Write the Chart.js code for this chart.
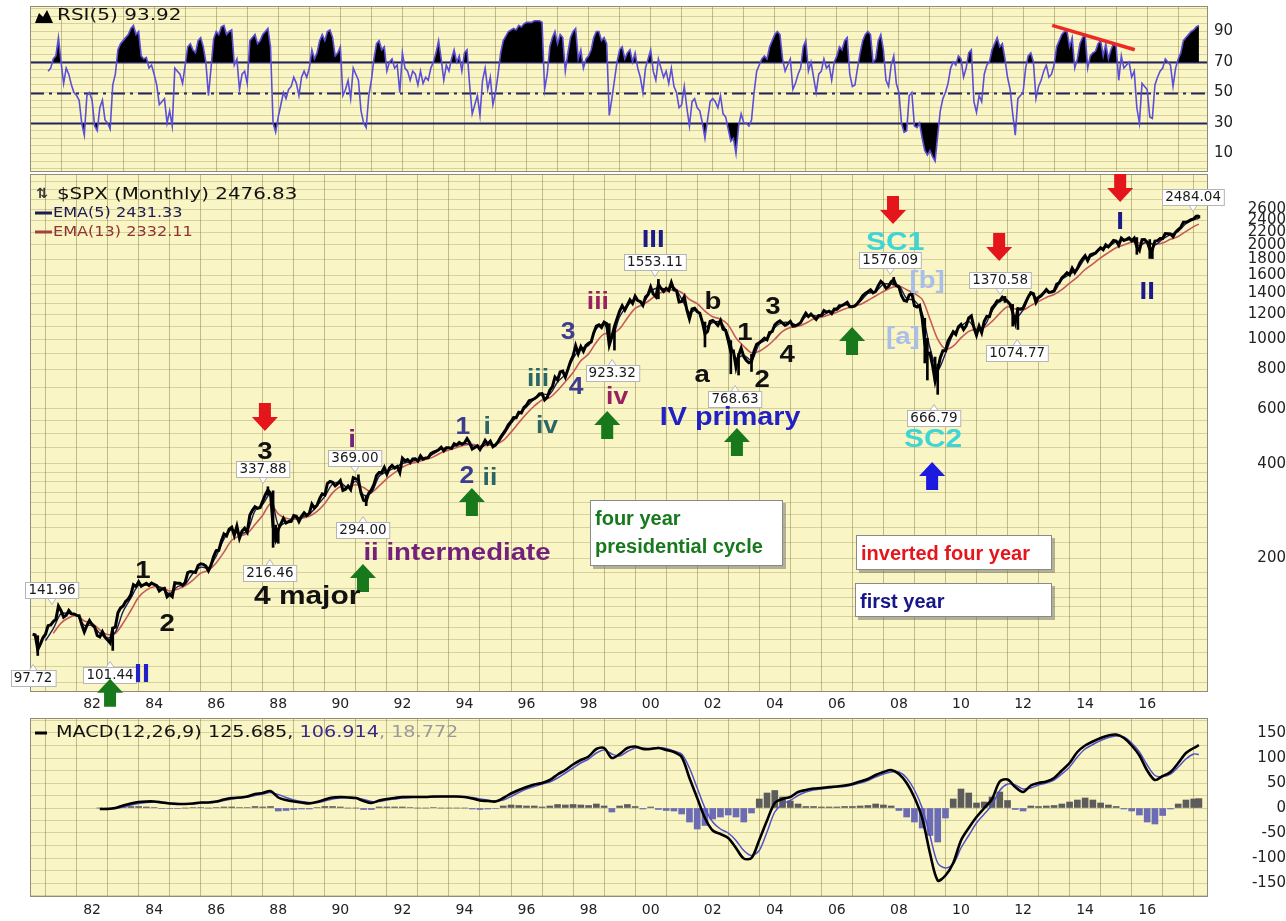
<!DOCTYPE html>
<html><head><meta charset="utf-8">
<script src="https://cdn.jsdelivr.net/npm/chart.js@4.4.1/dist/chart.umd.min.js"></script>
<style>
html,body{margin:0;padding:0;background:#fff;width:1286px;height:921px;overflow:hidden}
.p{position:absolute;left:0;width:1286px}
</style></head><body>
<div class="p" style="top:0;height:176px"><canvas id="c1"></canvas></div>
<div class="p" style="top:174px;height:540px"><canvas id="c2"></canvas></div>
<div class="p" style="top:714px;height:207px"><canvas id="c3"></canvas></div>
<script>
// ---------------- DATA ----------------
// S&P 500 monthly closes, Jan 1980 .. Aug 2017
const closes = [
114.16,113.66,102.09,106.29,111.24,114.24,121.67,122.38,125.46,127.47,140.52,135.76,
129.55,131.27,136.00,132.81,132.59,131.21,130.92,122.79,116.18,121.89,126.35,122.55,
120.40,113.11,111.96,116.44,111.88,109.61,107.09,119.51,120.42,133.71,138.54,140.64,
145.30,148.06,152.96,164.42,162.39,168.11,162.56,164.40,166.07,163.55,166.40,164.93,
163.41,157.06,159.18,160.05,150.55,153.18,150.66,166.68,166.10,166.09,163.58,167.24,
179.63,181.18,180.66,179.83,189.55,191.85,190.92,188.63,182.08,189.82,202.17,211.28,
211.78,226.92,238.90,235.52,247.35,250.84,236.12,252.93,231.32,243.98,249.22,242.17,
274.08,284.20,291.70,288.36,290.10,304.00,318.66,329.80,321.83,251.79,230.30,247.08,
257.07,267.82,258.89,261.33,262.16,273.50,272.02,261.52,271.91,278.97,273.70,277.72,
297.47,288.86,294.87,309.64,320.52,317.98,346.08,351.45,349.15,340.36,345.99,353.40,
329.08,331.89,339.94,330.80,361.23,358.02,356.15,322.56,306.05,304.00,322.22,330.22,
343.93,367.07,375.22,375.35,389.83,371.16,387.81,395.43,387.86,392.46,375.22,417.09,
408.79,412.70,403.69,414.95,415.35,408.14,424.21,414.03,417.80,418.68,431.35,435.71,
438.78,443.38,451.67,440.19,450.19,450.53,448.13,463.56,458.93,467.83,461.79,466.45,
481.61,467.14,445.77,450.91,456.50,444.27,458.26,475.49,462.69,472.35,453.69,459.27,
470.42,487.39,500.71,514.71,533.40,544.75,562.06,561.88,584.41,581.50,605.37,615.93,
636.02,640.43,645.50,654.17,669.12,670.63,639.95,651.99,687.31,705.27,757.02,740.74,
786.16,790.82,757.12,801.34,848.28,885.14,954.29,899.47,947.28,914.62,955.40,970.43,
980.28,1049.34,1101.75,1111.75,1090.82,1133.84,1120.67,957.28,1017.01,1098.67,1163.63,1229.23,
1279.64,1238.33,1286.37,1335.18,1301.84,1372.71,1328.72,1320.41,1282.71,1362.93,1388.91,1469.25,
1394.46,1366.42,1498.58,1452.43,1420.60,1454.60,1430.83,1517.68,1436.51,1429.40,1314.95,1320.28,
1366.01,1239.94,1160.33,1249.46,1255.82,1224.42,1211.23,1133.58,1040.94,1059.78,1139.45,1148.08,
1130.20,1106.73,1147.39,1076.92,1067.14,989.82,911.62,916.07,815.28,885.76,936.31,879.82,
855.70,841.15,848.18,916.92,963.59,974.50,990.31,1008.01,995.97,1050.71,1058.20,1111.92,
1131.13,1144.94,1126.21,1107.30,1120.68,1140.84,1101.72,1104.24,1114.58,1130.20,1173.82,1211.92,
1181.27,1203.60,1180.59,1156.85,1191.50,1191.33,1234.18,1220.33,1228.81,1207.01,1249.48,1248.29,
1280.08,1280.66,1294.87,1310.61,1270.09,1270.20,1276.66,1303.82,1335.85,1377.94,1400.63,1418.30,
1438.24,1406.82,1420.86,1482.37,1530.62,1503.35,1455.27,1473.99,1526.75,1549.38,1481.14,1468.36,
1378.55,1330.63,1322.70,1385.59,1400.38,1280.00,1267.38,1282.83,1166.36,968.75,896.24,903.25,
825.88,735.09,797.87,872.81,919.14,919.32,987.48,1020.62,1057.08,1036.19,1095.63,1115.10,
1073.87,1104.49,1169.43,1186.69,1089.41,1030.71,1101.60,1049.33,1141.20,1183.26,1180.55,1257.64,
1286.12,1327.22,1325.83,1363.61,1345.20,1320.64,1292.28,1218.89,1131.42,1253.30,1246.96,1257.60,
1312.41,1365.68,1408.47,1397.91,1310.33,1362.16,1379.32,1406.58,1440.67,1412.16,1416.18,1426.19,
1498.11,1514.68,1569.19,1597.57,1630.74,1606.28,1685.73,1632.97,1681.55,1756.54,1805.81,1848.36,
1782.59,1859.45,1872.34,1883.95,1923.57,1960.23,1930.67,2003.37,1972.29,2018.05,2067.56,2058.90,
1994.99,2104.50,2067.89,2085.51,2107.39,2063.11,2103.84,1972.18,1920.03,2079.36,2080.41,2043.94,
1940.24,1932.23,2059.74,2065.30,2096.95,2098.86,2173.60,2170.95,2168.27,2126.15,2198.81,2238.83,
2278.87,2363.64,2362.72,2384.20,2411.80,2423.41,2470.30,2476.83
];
// Monthly high-low range of the months whose extremes stand out (month index from Jan 1980)
const wickMonths = [2,31,91,93,94,95,126,129,223,225,242,260,270,273,278,333,345,346,349,350,376,379,381,427,432,433,451];
const wickLows   = [97.72,101.44,318,216.46,225,223,355,294,957,923.32,1346,944.75,775.68,768.63,789,1489,839.8,741,735,666.79,1311,1101.5,1074.77,1867,1812,1810,2437];
const wickHighs  = [113,120,337.88,328,255,248,369,315,1121,1100,1553.11,1135,990,900,895,1576.09,1167,1007,877,832,1370.58,1292,1256,2112,2081,1962,2484.04];
// EMA(5), quarter ends from Jun 1980 (last = Aug 2017)
const ema5 = [
109,119,133,
133,132,122,122, 115,111,116,135, 149,164,164,165, 160,154,162,165, 179,187,186,203,
230,247,240,244, 283,297,321,255, 260,269,270,276, 294,315,345,348, 336,352,318,323,
365,378,388,401, 407,411,417,430, 447,449,458,465, 458,450,465,460, 493,538,576,608,
643,667,668,730, 772,867,934,955, 1080,1120,1010,1180, 1280,1340,1305,1420,
1460,1445,1465,1345, 1220,1240,1095,1130, 1135,1030,870,890, 855,965,1000,1090,
1130,1130,1110,1180, 1190,1185,1225,1240, 1290,1278,1320,1400, 1420,1500,1500,1485,
1350,1330,1210,940, 800,900,1040,1100, 1140,1070,1100,1230, 1320,1330,1170,1240,
1390,1350,1420,1420, 1550,1610,1670,1810, 1850,1940,1975,2045, 2070,2080,1990,2050,
2000,2090,2160,2210, 2340,2410,2431.33
];
// EMA(13), quarter ends from Sep 1980 (last = Aug 2017)
const ema13 = [
115,124,
129,131,126,124, 118,114,115,124, 136,150,158,162, 161,157,159,163, 170,179,183,193,
209,228,235,240, 256,274,298,277, 268,266,268,272, 282,299,323,338, 337,343,336,325,
340,359,375,390, 400,406,413,421, 434,443,451,459, 462,457,458,461, 475,505,541,578,
612,640,651,686, 731,783,853,898, 978,1040,1040,1080, 1170,1255,1289,1340,
1400,1421,1440,1410, 1340,1300,1230,1180, 1160,1110,1010,950, 905,915,950,1000,
1060,1090,1100,1125, 1160,1175,1198,1220, 1248,1272,1290,1330, 1375,1420,1460,1480,
1440,1400,1340,1160, 1000,930,950,1010, 1060,1080,1090,1140, 1210,1270,1250,1240,
1280,1320,1360,1390, 1440,1510,1580,1670, 1740,1820,1890,1960, 2000,2040,2030,2030,
2010,2030,2085,2130, 2210,2290,2332.11
];
// RSI(5), monthly from Jul 1980 .. Aug 2017
const rsi5 = [
64,66,72,74,86,70,
56,66,62,55,50,48,45,30,22,48,50,45,
28,25,40,45,32,30,26,55,62,78,82,84,
86,88,92,94,88,90,74,72,73,66,68,62,
55,42,44,46,30,38,28,66,64,62,56,68,
80,82,78,76,84,86,80,70,48,66,85,90,
88,93,94,88,90,91,68,72,52,62,64,56,
84,86,88,82,84,88,90,92,80,30,24,34,
42,50,46,52,54,60,56,48,60,64,60,66,
78,72,76,84,88,84,90,91,86,74,76,80,
48,52,58,46,66,62,58,38,30,27,48,58,
72,82,84,78,80,64,70,72,66,68,50,76,
66,64,58,64,62,55,64,56,60,58,66,70,
76,84,72,58,68,64,72,78,70,74,64,76,
78,55,36,42,48,35,58,66,52,60,42,50,
62,76,84,87,90,91,92,91,94,93,95,96,
96,96,97,97,97,96,52,62,80,86,90,82,
88,86,64,76,86,90,92,72,78,66,72,74,
78,86,90,90,84,86,82,35,46,58,70,78,
80,72,76,78,70,76,66,60,50,66,72,78,
64,58,72,66,60,64,56,66,54,50,40,42,
54,40,28,44,46,40,38,30,20,32,44,46,
44,40,48,36,34,26,18,20,10,28,36,30,
30,28,32,50,64,68,72,74,72,80,84,88,
90,88,72,64,68,72,52,56,62,66,80,84,
64,70,60,50,62,64,72,66,68,58,70,74,
80,78,84,86,62,54,55,66,76,84,88,90,
88,70,72,84,88,78,58,54,68,74,56,50,
30,24,25,48,50,28,27,30,20,12,9,12,
8,5,22,38,46,50,56,66,70,68,74,72,
60,66,76,78,44,37,48,44,62,68,70,78,
82,86,80,82,72,60,52,36,22,46,48,50,
66,74,76,70,46,54,58,64,68,60,62,68,
80,84,88,90,90,80,86,66,72,82,86,88,
66,74,76,77,82,84,74,82,72,78,82,80,
58,74,66,68,70,60,64,40,30,56,54,52,
34,33,55,60,64,66,72,70,68,54,66,72,
76,84,86,88,90,91,93,93.92
];
// RSI trend line (year, value)
const rsiTrendYears = [2012.94, 2015.6];
const rsiTrendValues = [94, 78];
// MACD(12,26,9), quarter ends from Mar 1982 (last = Aug 2017)
const macdLine = [
-2,-2,0,5, 9,12,13,13, 11,9,8,8, 9,11,11,13, 17,20,21,23, 28,30,34,21, 16,13,11,9,
12,17,21,22, 21,20,14,10, 15,18,20,22, 22,22,22,23, 23,23,23,22, 19,15,14,13,
20,29,36,42, 47,50,56,67, 76,87,96,103, 118,120,100,108, 120,123,118,118,
120,116,112,102, 60,20,-20,-45, -52,-60,-80,-101, -100,-64,-25,10, 18,22,32,36,
39,40,42,43, 45,48,53,58, 66,72,76,68, 50,21,-20,-90, -145,-135,-110,-65,
-40,-18,0,18, 53,57,42,32, 45,50,53,60, 75,90,112,125, 133,140,145,147,
140,125,105,75, 56,64,72,90, 110,120,125.685
];
const macdSignal = [
-2,-2,-1,2, 6,9,11,12, 12,10,9,8, 8,10,11,12, 15,18,20,22, 25,28,31,27, 21,16,13,11,
11,14,18,20, 21,20,17,13, 13,16,18,20, 21,22,22,22, 23,23,23,22, 21,18,16,14,
16,23,31,38, 43,48,52,60, 70,80,90,98, 110,116,108,104, 113,120,120,119,
121,119,114,108, 80,40,0,-28, -42,-50,-65,-85, -95,-85,-48,-8, 8,15,25,32,
36,38,40,42, 43,46,50,55, 62,68,72,72, 60,36,0,-55, -110,-120,-112,-80,
-55,-30,-12,6, 35,48,46,38, 40,46,50,56, 68,82,102,118, 127,135,141,144,
142,130,112,86, 65,63,68,82, 98,108,106.914
];
const macdHist = [
0,0,1,3, 3,3,2,1, -1,-1,-1,0, 1,1,0,1, 2,2,1,1, 3,2,3,-6, -5,-3,-2,-2,
1,3,3,2, 0,0,-3,-3, 2,2,2,2, 1,0,0,1, 0,0,0,0, -2,-3,-2,-1,
4,6,5,4, 4,2,4,7, 6,7,6,5, 8,4,-8,4, 7,3,-2,2,
-3,-5,-6,-12, -28,-42,-35,-22, -18,-14,-18,-28, -10,18,30,35, 22,14,8,3,
3,2,2,2, 3,3,4,5, 8,6,4,-5, -18,-28,-40,-55, -68,-20,18,38,
30,10,12,22, 32,15,-3,-6, 4,3,4,5, 8,12,16,20, 16,10,6,3,
-2,-6,-14,-28, -32,-15,-2,8, 16,18,18.772
];
// Axis tick labels
const xLabelYears = [1982,1984,1986,1988,1990,1992,1994,1996,1998,2000,2002,2004,2006,2008,2010,2012,2014,2016];
const xLabelText  = ['82','84','86','88','90','92','94','96','98','00','02','04','06','08','10','12','14','16'];
const priceGrid = [80,90,100,110,120,130,140,150,160,180,200,225,250,275,300,325,350,375,400,450,500,550,600,700,800,900,1000,1100,1200,1300,1400,1500,1600,1800,2000,2200,2400,2600,2800,3000,3200];
const priceLabels = [200,400,600,800,1000,1200,1400,1600,1800,2000,2200,2400,2600];
const rsiLabels = [10,30,50,70,90];
const rsiLevels = [70,50,30];
const macdLabels = [-150,-100,-50,0,50,100,150];

// Annotations on the price panel (year, price)
const waveLabels = [
 [1983.64,182,'1','blk'],[1984.42,122.4,'2','blk'],[1987.57,436.5,'3','blk'],[1988.93,150.3,'4 major','big'],
 [1983.61,84.6,'II','blue'],[1990.38,476.8,'i','pur'],[1993.76,207.7,'ii intermediate','pur'],
 [1993.95,520.8,'1','slate'],[1994.73,520.8,'i','teal'],[1994.08,363,'2','slate'],[1994.82,360,'ii','teal'],
 [1996.37,741,'iii','teal'],[1996.66,524.5,'iv','teal'],[1997.34,1047,'3','slate'],[1997.6,699,'4','slate'],
 [1998.3,1305,'iii','pur2'],[1998.92,649,'iv','pur2'],[2000.08,2075,'III','navy'],
 [2002.01,1315,'b','blk'],[2001.66,769,'a','blk'],[2003.04,1047,'1','blk'],[2003.59,741,'2','blk'],
 [2003.94,1268,'3','blk'],[2004.4,891,'4','blk'],[2002.56,560,'IV primary','blue'],
 [2007.88,2030,'SC1','cyan'],[2008.91,1535,'[b]','lb'],[2008.13,1017,'[a]','lb'],[2009.1,476.8,'SC2','cyan'],
 [2015.13,2369,'I','navy'],[2016.0,1416,'II','navy']
];
const priceCallouts = [
 [1980.71,158.2,'141.96','d'],[1980.1,82.9,'97.72','u'],[1982.58,84.6,'101.44','u'],
 [1987.51,385.3,'337.88','d'],[1987.73,179.3,'216.46','u'],[1990.47,417.8,'369.00','d'],
 [1990.73,245.9,'294.00','u'],[1998.76,780,'923.32','u'],[2000.14,1765,'1553.11','d'],
 [2002.72,644.6,'768.63','u'],[2007.72,1791,'1576.09','d'],[2009.13,560,'666.79','u'],
 [2011.26,1546,'1370.58','d'],[2011.81,904,'1074.77','u'],[2017.48,2846,'2484.04','d']
];
const arrows = [
 [1987.57,564.5,'d','red'],[2007.81,2587,'d','red'],[2011.23,1971,'d','red'],[2015.13,3041,'d','red'],
 [1982.58,74.3,'u','green'],[1990.73,172.7,'u','green'],[1994.24,302,'u','green'],[1998.6,532,'u','green'],
 [2002.78,469.8,'u','green'],[2006.49,987,'u','green'],[2009.07,365.8,'u','blue']
];
const noteBoxes = [
 [1998.05,306.7,['four year','presidential cycle'],'green'],
 [2006.62,237.2,['inverted four year'],'red'],
 [2006.59,166.7,['first year'],'navy']
];

// ---------------- STYLE ----------------
const X_MIN = 1980, X_MAX = 2017.96;
const PLOT_BG = '#faf5c4';
const GRID_X = 'rgba(115,105,55,0.42)';
const GRID_Y = 'rgba(115,105,55,0.26)';
const TICK_FONT = {family:'DejaVu Sans', size:15};
const COLORS = {red:'#e4161c', green:'#18791c', blue:'#1b1be0', navy:'#16168a'};
const labelStyles = {
 blk:['#111111','bold 24px "Liberation Sans"'], big:['#111111','bold 26px "Liberation Sans"'],
 pur:['#74217c','bold 24px "Liberation Sans"'], pur2:['#98215f','bold 23px "Liberation Sans"'],
 teal:['#2b6666','bold 23px "Liberation Sans"'], slate:['#3d3d90','bold 23px "Liberation Sans"'],
 navy:['#1a1a8c','bold 24px "Liberation Sans"'], blue:['#2121c4','bold 25px "Liberation Sans"'],
 cyan:['#3fd5d5','bold 26px "Liberation Sans"'], lb:['#a9bfe8','bold 24px "Liberation Sans"']
};
const boxSizes = {green:[193,66], red:[196,35], navy:[197,34]};

// ---------------- HELPERS ----------------
const LAST_X = 1980 + closes.length/12;
const monthX = i => 1980 + (i + 1) / 12;
const qX = (start, i, n) => (i === n - 1 ? LAST_X : start + i * 0.25);
const closeData = closes.map((v,i)=>({x:monthX(i), y:v}));
const wickData = wickMonths.map((m,i)=>({x:monthX(m), y:[wickLows[i], wickHighs[i]]}));
const ema5Data = ema5.map((v,i)=>({x:qX(1980.5,i,ema5.length), y:v}));
const ema13Data = ema13.map((v,i)=>({x:qX(1980.75,i,ema13.length), y:v}));
const rsiData = rsi5.map((v,i)=>({x:monthX(i+6), y:v}));
const trendData = rsiTrendYears.map((x,i)=>({x, y:rsiTrendValues[i]}));
const macdData = macdLine.map((v,i)=>({x:qX(1982.25,i,macdLine.length), y:v}));
const sigData = macdSignal.map((v,i)=>({x:qX(1982.25,i,macdSignal.length), y:v}));
const histData = macdHist.map((v,i)=>({x:qX(1982.25,i,macdHist.length), y:v}));
const yearTicks = []; for (let y = 1980; y <= 2017; y++) yearTicks.push(y);
const xLabel = v => { const k = xLabelYears.indexOf(v); return k >= 0 ? xLabelText[k] : ''; };
const noPad = s => { s.paddingTop = 0; s.paddingBottom = 0; s.paddingLeft = 0; s.paddingRight = 0; };

function txt(ctx, s, x, y, font, color, align, sx) {
  ctx.save(); ctx.translate(x, y); ctx.scale(sx || 1, 1);
  ctx.font = font; ctx.fillStyle = color; ctx.textAlign = align || 'center'; ctx.textBaseline = 'middle';
  ctx.fillText(s, 0, 0); ctx.restore();
}
function textW(ctx, s, font, sx) { ctx.save(); ctx.font = font; const w = ctx.measureText(s).width * (sx||1); ctx.restore(); return w; }

const bgPlugin = {
  id:'bg',
  beforeDraw(chart){ const {ctx, chartArea:a} = chart; ctx.save(); ctx.fillStyle = PLOT_BG; ctx.fillRect(a.left, a.top, a.width, a.height); ctx.restore(); },
  afterDatasetsDraw(chart){ const {ctx, chartArea:a} = chart; ctx.save(); ctx.strokeStyle = '#8f8c78'; ctx.lineWidth = 1; ctx.strokeRect(a.left+0.5, a.top+0.5, a.width-1, a.height-1); ctx.restore(); }
};

function xScale(h, showLabels, pad) {
  return {
    type:'linear', min:X_MIN, max:X_MAX, offset:false,
    afterBuildTicks: s => { s.ticks = yearTicks.map(v => ({value:v})); },
    afterFit: s => { s.height = h; noPad(s); },
    grid:{color:GRID_X, drawTicks:false}, border:{display:false},
    ticks:{display:showLabels, autoSkip:false, maxRotation:0, minRotation:0, padding:pad, color:'#222',
      font:{family:'DejaVu Sans', size:14}, callback: v => xLabel(v)}
  };
}

// ---------------- RSI PANEL ----------------
const rsiPlugin = {
  id:'rsiDeco',
  beforeDatasetsDraw(chart){
    const {ctx, chartArea:a, scales:{y}} = chart;
    ctx.save(); ctx.strokeStyle = '#24245e'; ctx.lineWidth = 2;
    rsiLevels.forEach(v => {
      const py = Math.round(y.getPixelForValue(v)) + 0.5;
      ctx.setLineDash(v === 50 ? [14,5,3,5] : []);
      ctx.beginPath(); ctx.moveTo(a.left, py); ctx.lineTo(a.right, py); ctx.stroke();
    });
    ctx.restore();
  },
  afterDraw(chart){
    const {ctx} = chart;
    ctx.save(); ctx.fillStyle = '#000';
    ctx.beginPath(); ctx.moveTo(35,23); ctx.lineTo(39,13); ctx.lineTo(43,17); ctx.lineTo(47,10); ctx.lineTo(53,23); ctx.closePath(); ctx.fill();
    ctx.restore();
    txt(ctx, 'RSI(5) 93.92', 57, 16, '16px "DejaVu Sans"', '#111', 'left', 1.25);
  }
};
new Chart(document.getElementById('c1'), {
  type:'line',
  data:{datasets:[
    {data:trendData, borderColor:'#ec2a22', borderWidth:3.5, pointRadius:0, fill:false},
    {data:rsiData, borderColor:'#5b4ed8', borderWidth:1.6, pointRadius:0, tension:0,
      fill:{target:{value:70}, above:'#000000', below:'rgba(0,0,0,0)'}},
    {data:rsiData, borderColor:'rgba(0,0,0,0)', borderWidth:0, pointRadius:0,
      fill:{target:{value:30}, above:'rgba(0,0,0,0)', below:'#000000'}}
  ]},
  options:{
    responsive:true, maintainAspectRatio:false, animation:false,
    layout:{padding:{left:30, top:6, right:0, bottom:0}},
    plugins:{legend:{display:false}, tooltip:{enabled:false}},
    scales:{
      x: xScale(4, false, 0),
      y:{type:'linear', position:'right', min:-2.1, max:106.7,
        afterBuildTicks: s => { const t=[]; for (let v=0; v<=105; v+=5) t.push({value:v}); s.ticks = t; },
        afterFit: s => { s.width = 78; noPad(s); },
        grid:{color:GRID_Y, drawTicks:false}, border:{display:false},
        ticks:{autoSkip:false, padding:6, crossAlign:'near', color:'#222', font:TICK_FONT,
          callback: v => rsiLabels.includes(v) ? String(v) : ''}}
    }
  },
  plugins:[bgPlugin, rsiPlugin]
});

// ---------------- PRICE PANEL ----------------
function drawArrow(ctx, px, py, dir, color) {
  const hw = 13, sw = 6, h = 14, s = dir === 'd' ? 1 : -1;
  ctx.save(); ctx.fillStyle = color;
  ctx.beginPath();
  ctx.moveTo(px - sw, py - s*h); ctx.lineTo(px + sw, py - s*h); ctx.lineTo(px + sw, py);
  ctx.lineTo(px + hw, py); ctx.lineTo(px, py + s*h); ctx.lineTo(px - hw, py); ctx.lineTo(px - sw, py);
  ctx.closePath(); ctx.fill(); ctx.restore();
}
function drawCallout(ctx, px, py, text, dir) {
  const font = '13.5px "DejaVu Sans"';
  const w = textW(ctx, text, font) + 6, h = 16, x0 = Math.round(px - w/2) + 0.5, y0 = Math.round(py - h/2) + 0.5;
  ctx.save();
  ctx.fillStyle = '#ffffff'; ctx.strokeStyle = '#b5b5b5'; ctx.lineWidth = 1;
  ctx.beginPath();
  if (dir === 'd') { ctx.moveTo(px-4, y0+h); ctx.lineTo(px, y0+h+6); ctx.lineTo(px+4, y0+h); }
  else { ctx.moveTo(px-4, y0); ctx.lineTo(px, y0-6); ctx.lineTo(px+4, y0); }
  ctx.closePath(); ctx.fill(); ctx.stroke();
  ctx.fillRect(x0, y0, w, h); ctx.strokeRect(x0, y0, w, h);
  ctx.restore();
  txt(ctx, text, px, py + 0.5, font, '#1a1a1a', 'center', 1);
}
function drawNote(ctx, px, py, lines, colorKey) {
  const [w, h] = boxSizes[colorKey];
  ctx.save();
  ctx.fillStyle = 'rgba(120,120,110,0.55)'; ctx.fillRect(px + 3, py + 3, w, h);
  ctx.fillStyle = '#ffffff'; ctx.fillRect(px, py, w, h);
  ctx.strokeStyle = '#8a8a8a'; ctx.lineWidth = 1; ctx.strokeRect(px + 0.5, py + 0.5, w - 1, h - 1);
  ctx.restore();
  const color = COLORS[colorKey];
  lines.forEach((s, i) => txt(ctx, s, px + 5, py + 19 + i * 28, 'bold 20px "Liberation Sans"', color, 'left', 1));
}
const mainPlugin = {
  id:'mainDeco',
  afterDraw(chart){
    const {ctx, scales:{x, y}} = chart;
    noteBoxes.forEach(b => drawNote(ctx, Math.round(x.getPixelForValue(b[0])), Math.round(y.getPixelForValue(b[1])), b[2], b[3]));
    priceCallouts.forEach(c => drawCallout(ctx, x.getPixelForValue(c[0]), y.getPixelForValue(c[1]), c[2], c[3]));
    arrows.forEach(a => drawArrow(ctx, x.getPixelForValue(a[0]), y.getPixelForValue(a[1]), a[2], COLORS[a[3]]));
    waveLabels.forEach(l => { const st = labelStyles[l[3]]; txt(ctx, l[2], x.getPixelForValue(l[0]), y.getPixelForValue(l[1]), st[1], st[0], 'center', 1.15); });
    // legend
    txt(ctx, '⇅', 42, 20, 'bold 14px "DejaVu Sans"', '#333', 'center', 1);
    txt(ctx, '$SPX (Monthly) 2476.83', 57, 21, '16px "DejaVu Sans"', '#111', 'left', 1.24);
    ctx.save(); ctx.lineWidth = 3;
    ctx.strokeStyle = '#1b1b55'; ctx.beginPath(); ctx.moveTo(35, 39); ctx.lineTo(52, 39); ctx.stroke();
    ctx.strokeStyle = '#a04040'; ctx.beginPath(); ctx.moveTo(35, 58); ctx.lineTo(52, 58); ctx.stroke();
    ctx.restore();
    txt(ctx, 'EMA(5) 2431.33', 53, 39, '14px "DejaVu Sans"', '#1b1b55', 'left', 1.15);
    txt(ctx, 'EMA(13) 2332.11', 53, 58, '14px "DejaVu Sans"', '#8e3434', 'left', 1.15);
  }
};
new Chart(document.getElementById('c2'), {
  type:'line',
  data:{datasets:[
    {data:closeData, borderColor:'#000000', borderWidth:3, pointRadius:0, tension:0},
    {type:'bar', data:wickData, backgroundColor:'#000000', borderWidth:0, barThickness:2},
    {data:ema5Data, borderColor:'#1b1b55', borderWidth:1.4, pointRadius:0, tension:0.3},
    {data:ema13Data, borderColor:'#c65a5a', borderWidth:1.6, pointRadius:0, tension:0.3}
  ]},
  options:{
    responsive:true, maintainAspectRatio:false, animation:false,
    layout:{padding:{left:30, top:0, right:0, bottom:0}},
    plugins:{legend:{display:false}, tooltip:{enabled:false}},
    scales:{
      x: xScale(22, true, 4),
      y:{type:'logarithmic', position:'right', min:74.7, max:3371,
        afterBuildTicks: s => { s.ticks = priceGrid.map(v => ({value:v})); },
        afterFit: s => { s.width = 78; noPad(s); },
        grid:{color:GRID_Y, drawTicks:false}, border:{display:false},
        ticks:{autoSkip:false, padding:11, crossAlign:'far', color:'#222', font:TICK_FONT,
          callback: v => priceLabels.includes(v) ? String(v) : ''}}
    }
  },
  plugins:[bgPlugin, mainPlugin]
});

// ---------------- MACD PANEL ----------------
const macdPlugin = {
  id:'macdDeco',
  afterDraw(chart){
    const {ctx} = chart;
    ctx.save(); ctx.strokeStyle = '#000'; ctx.lineWidth = 3; ctx.beginPath(); ctx.moveTo(35, 19); ctx.lineTo(47, 19); ctx.stroke(); ctx.restore();
    const font = '16px "DejaVu Sans"', sx = 1.2;
    let cx = 56;
    [['MACD(12,26,9) 125.685, ', '#111'], ['106.914', '#3b2a88'], [', 18.772', '#9a9a9a']].forEach(p => {
      txt(ctx, p[0], cx, 19, font, p[1], 'left', sx); cx += textW(ctx, p[0], font, sx);
    });
  }
};
new Chart(document.getElementById('c3'), {
  type:'line',
  data:{datasets:[
    {data:macdData, borderColor:'#000000', borderWidth:2.6, pointRadius:0, tension:0.3},
    {data:sigData, borderColor:'#5252c8', borderWidth:1.5, pointRadius:0, tension:0.3},
    {type:'bar', data:histData, barThickness:6, borderWidth:0,
      backgroundColor: c => (c.raw && c.raw.y < 0) ? '#6c6cb4' : '#5c5c5c'}
  ]},
  options:{
    responsive:true, maintainAspectRatio:false, animation:false,
    layout:{padding:{left:30, top:4, right:0, bottom:0}},
    plugins:{legend:{display:false}, tooltip:{enabled:false}},
    scales:{
      x: xScale(24, true, 5),
      y:{type:'linear', position:'right', min:-178, max:180,
        afterBuildTicks: s => { const t=[]; for (let v=-175; v<=175; v+=25) t.push({value:v}); s.ticks = t; },
        afterFit: s => { s.width = 78; noPad(s); },
        grid:{color:GRID_Y, drawTicks:false}, border:{display:false},
        ticks:{autoSkip:false, padding:7, crossAlign:'far', color:'#222', font:TICK_FONT,
          callback: v => macdLabels.includes(v) ? String(v) : ''}}
    }
  },
  plugins:[bgPlugin, macdPlugin]
});
</script>
</body></html>
